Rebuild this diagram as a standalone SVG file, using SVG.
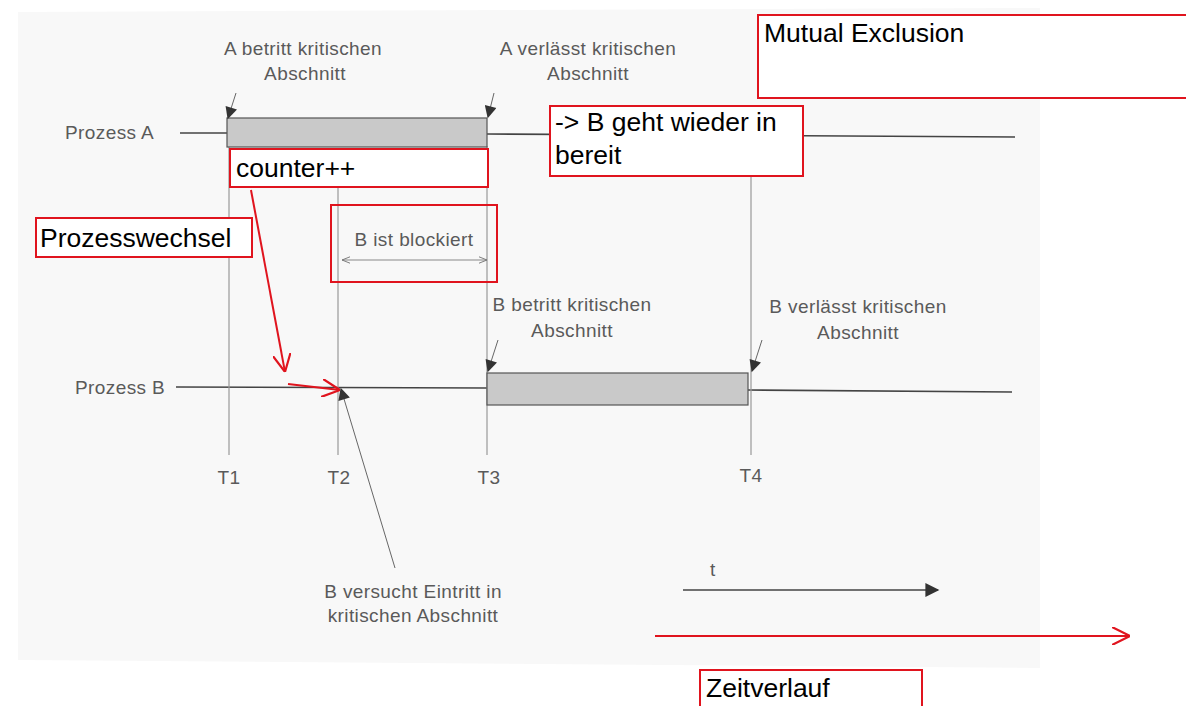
<svg xmlns="http://www.w3.org/2000/svg" width="1186" height="706" viewBox="0 0 1186 706">
<style>
.scan{font-family:"Liberation Sans",Arial,sans-serif;font-size:19px;letter-spacing:0.4px;fill:#5a5a5a}
.note{font-family:"Liberation Sans",Arial,sans-serif;font-size:26.5px;fill:#000}
.box{fill:#fff;stroke:#e0141e;stroke-width:2}
.line{stroke:#444;stroke-width:1.6;fill:none}
.vl{stroke:#999;stroke-width:1.2;fill:none}
.bar{fill:#c9c9c9;stroke:#555;stroke-width:1.2}
.ptr{stroke:#666;stroke-width:1;fill:none}
.red{stroke:#e0141e;stroke-width:2;fill:none}
</style>
<defs>
<marker id="tri" viewBox="0 0 10 10" refX="9" refY="5" markerWidth="14" markerHeight="12" markerUnits="userSpaceOnUse" orient="auto"><path d="M0,0 L10,5 L0,10 z" fill="#333"/></marker>
<marker id="bigtri" viewBox="0 0 10 10" refX="9" refY="5" markerWidth="18" markerHeight="14" markerUnits="userSpaceOnUse" orient="auto"><path d="M0,0 L10,5 L0,10 z" fill="#333"/></marker>
<marker id="thin" viewBox="0 0 10 10" refX="10" refY="5" markerWidth="8" markerHeight="8" markerUnits="userSpaceOnUse" orient="auto-start-reverse"><path d="M0,1 L10,5 L0,9" fill="none" stroke="#777" stroke-width="1.2"/></marker>
<marker id="chev" viewBox="0 0 10 10" refX="10" refY="5" markerWidth="18" markerHeight="18" markerUnits="userSpaceOnUse" orient="auto"><path d="M0,0 L10,5 L0,10" fill="none" stroke="#e0141e" stroke-width="1.2"/></marker>
</defs>
<rect width="1186" height="706" fill="#fff"/>
<polygon points="18,12 1040,8 1040,668 18,660" fill="#f8f8f8"/>

<g id="timelines">
<text class="scan" x="65" y="139">Prozess A</text>
<line class="line" x1="180" y1="133" x2="227" y2="133"/>
<line class="line" x1="487" y1="134" x2="1015" y2="137"/>
<text class="scan" x="75" y="394">Prozess B</text>
<line class="line" x1="176" y1="387" x2="487" y2="388"/>
<line class="line" x1="748" y1="390" x2="1012" y2="392"/>
</g>

<g id="guides">
<line class="vl" x1="229" y1="147" x2="229" y2="455"/>
<line class="vl" x1="338" y1="187" x2="338" y2="455"/>
<line class="vl" x1="487" y1="146" x2="487" y2="455"/>
<line class="vl" x1="751" y1="176" x2="751" y2="455"/>
<text class="scan" x="229" y="484" text-anchor="middle">T1</text>
<text class="scan" x="339" y="484" text-anchor="middle">T2</text>
<text class="scan" x="489" y="484" text-anchor="middle">T3</text>
<text class="scan" x="751" y="482" text-anchor="middle">T4</text>
</g>

<g id="barA"><rect class="bar" x="227" y="118" width="260" height="29"/></g>
<g id="barB"><rect class="bar" x="487" y="373" width="261" height="32"/></g>

<g id="lblAin">
<text class="scan" x="303" y="55" text-anchor="middle">A betritt kritischen</text>
<text class="scan" x="305" y="80" text-anchor="middle">Abschnitt</text>
</g>
<g id="lblAout">
<text class="scan" x="588" y="55" text-anchor="middle">A verlässt kritischen</text>
<text class="scan" x="588" y="80" text-anchor="middle">Abschnitt</text>
</g>
<g id="lblBin">
<text class="scan" x="572" y="311" text-anchor="middle">B betritt kritischen</text>
<text class="scan" x="572" y="337" text-anchor="middle">Abschnitt</text>
</g>
<g id="lblBout">
<text class="scan" x="858" y="313" text-anchor="middle">B verlässt kritischen</text>
<text class="scan" x="858" y="339" text-anchor="middle">Abschnitt</text>
</g>
<g id="lblBtry">
<text class="scan" x="413" y="598" text-anchor="middle">B versucht Eintritt in</text>
<text class="scan" x="413" y="622" text-anchor="middle">kritischen Abschnitt</text>
</g>
<g id="taxis">
<text class="scan" x="710" y="576">t</text>
<line class="line" x1="683" y1="590" x2="938" y2="590" marker-end="url(#bigtri)"/>
</g>

<g id="blocked">
<rect class="box" x="331" y="205" width="166" height="77" style="fill:none"/>
<text class="scan" x="414" y="246" text-anchor="middle">B ist blockiert</text>
<line x1="342" y1="260" x2="487" y2="260" stroke="#888" stroke-width="1" marker-start="url(#thin)" marker-end="url(#thin)"/>
</g>

<g id="counter"><rect class="box" x="230" y="149" width="258" height="38"/><text class="note" x="236" y="177">counter++</text></g>
<g id="bereit"><rect class="box" x="550" y="106" width="253" height="70"/><text class="note" x="555" y="131">-&gt; B geht wieder in</text><text class="note" x="555" y="164">bereit</text></g>
<g id="mutex"><rect class="box" x="758" y="15" width="440" height="83"/><text class="note" x="764" y="42">Mutual Exclusion</text></g>
<g id="wechsel"><rect class="box" x="36" y="218" width="216" height="39"/><text class="note" x="40" y="247">Prozesswechsel</text></g>
<g id="zeit"><rect class="box" x="700" y="670" width="222" height="45"/><text class="note" x="706" y="697">Zeitverlauf</text></g>

<g id="connectors">
<line class="ptr" x1="236" y1="93" x2="228" y2="118" marker-end="url(#tri)"/>
<line class="ptr" x1="494" y1="93" x2="488" y2="117" marker-end="url(#tri)"/>
<line class="ptr" x1="498" y1="340" x2="488" y2="371" marker-end="url(#tri)"/>
<line class="ptr" x1="762" y1="340" x2="752" y2="371" marker-end="url(#tri)"/>
<line class="ptr" x1="395" y1="568" x2="341" y2="389" marker-end="url(#tri)"/>
<line class="red" x1="251" y1="190" x2="285" y2="372" marker-end="url(#chev)"/>
<line class="red" x1="288" y1="384" x2="340" y2="390" marker-end="url(#chev)"/>
<line class="red" x1="655" y1="636" x2="1130" y2="636" marker-end="url(#chev)"/>
</g>
</svg>
